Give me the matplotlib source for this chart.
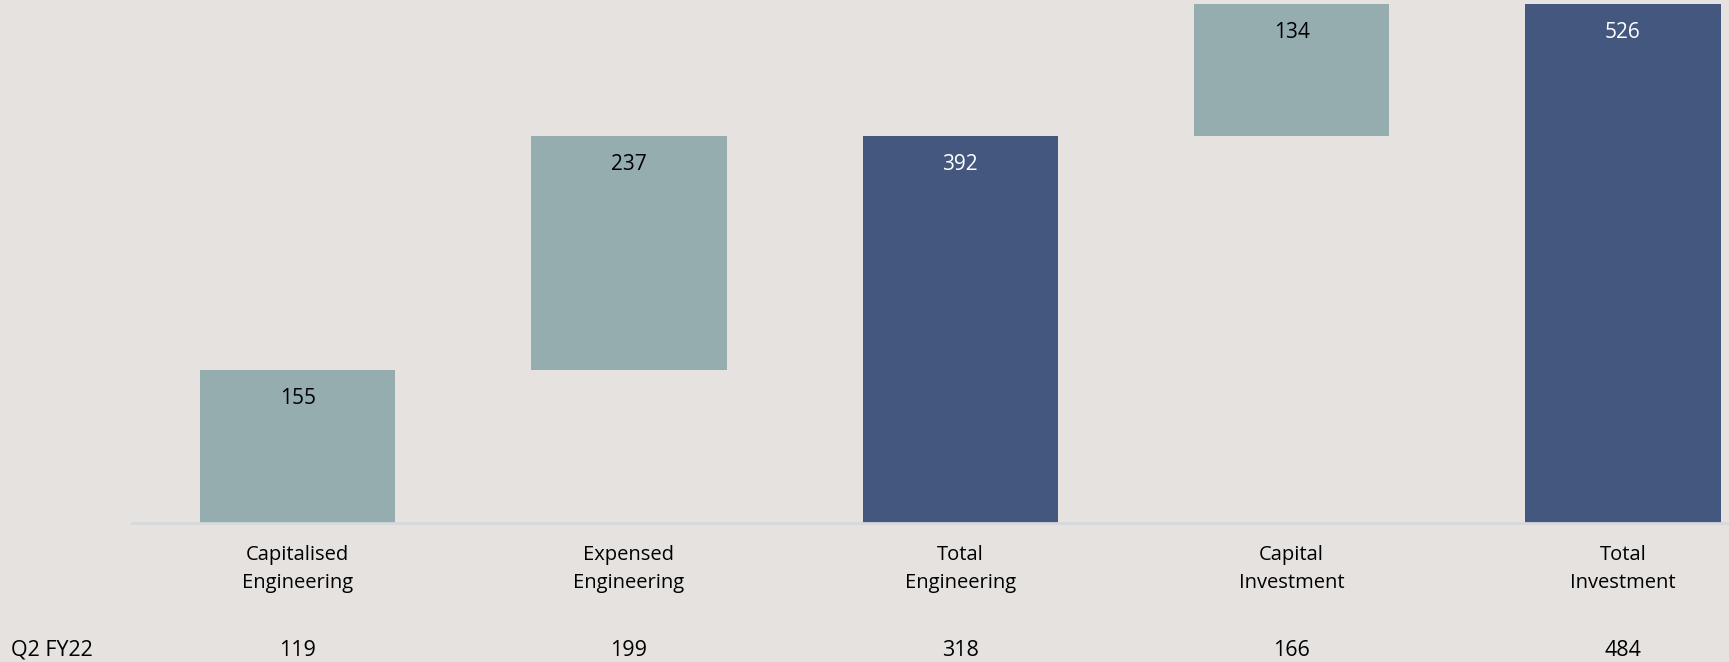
import matplotlib.pyplot as plt

# waterfall data
categories = ['Capitalised\nEngineering', 'Expensed\nEngineering', 'Total\nEngineering',
              'Capital\nInvestment', 'Total\nInvestment']
values = [155, 237, 392, 134, 526]
is_total = [False, False, True, False, True]
prior_label = 'Q2 FY22'
prior_values = [119, 199, 318, 166, 484]

bg = '#E6E2DF'
light = '#95ADAE'
dark = '#44587F'

plt.rcParams['font.family'] = ['Open Sans', 'DejaVu Sans']

fig = plt.figure(figsize=(17.29, 6.62), dpi=100, facecolor=bg)
ax = fig.add_axes([132 / 1729, 1 - 523 / 662, 1 - 132 / 1729, 520 / 662])
ax.set_facecolor(bg)

running = 0
for i, (v, tot) in enumerate(zip(values, is_total)):
    if tot:
        base = 0
        running = v
    else:
        base = running
        running += v
    col = dark if tot else light
    ax.bar(i, v, bottom=base, width=0.59, color=col, zorder=2)
    ax.text(i, base + v - 29, str(v), ha='center', va='center', fontsize=15,
            color='white' if tot else 'black', zorder=3)

ax.set_xlim(-0.5, 4.32)
ax.set_ylim(0, 527)
ax.set_yticks([])
ax.set_xticks(range(len(categories)))
ax.set_xticklabels(categories, fontsize=14.5, linespacing=1.55)
ax.tick_params(axis='x', length=0, pad=16)
for s in ['top', 'right', 'left']:
    ax.spines[s].set_visible(False)
ax.spines['bottom'].set_color('#D6D8DB')
ax.spines['bottom'].set_linewidth(2)

# prior period row
yrow = 1 - 650 / 662
fig.text(11 / 1729, yrow, prior_label, ha='left', va='center', fontsize=15.5)
for i, pv in enumerate(prior_values):
    xd = ax.transData.transform((i, 0))[0]
    xf = fig.transFigure.inverted().transform((xd, 0))[0]
    fig.text(xf, yrow, str(pv), ha='center', va='center', fontsize=15.5)

plt.savefig('out.png', dpi=100, facecolor=bg)
